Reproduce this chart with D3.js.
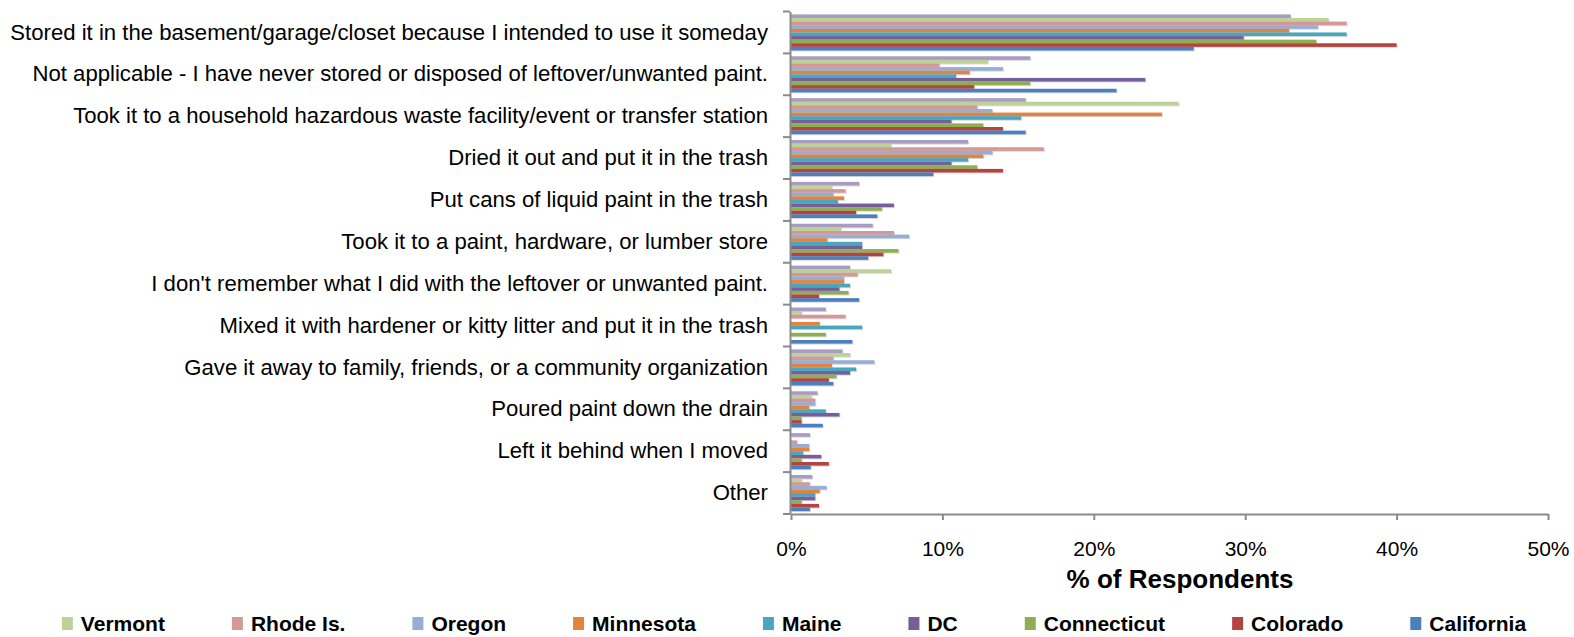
<!DOCTYPE html>
<html><head><meta charset="utf-8">
<script src="https://cdn.jsdelivr.net/npm/d3@7"></script>
<style>
html,body{margin:0;padding:0;background:#fff;}
svg{display:block;}
text{font-family:"Liberation Sans",Arial,sans-serif;fill:#000;}
</style></head>
<body>
<svg id="chart" width="1574" height="637"></svg>
<script>
const categories = [
  "Stored it in the basement/garage/closet because I intended to use it someday",
  "Not applicable - I have never stored or disposed of leftover/unwanted paint.",
  "Took it to a household hazardous waste facility/event or transfer station",
  "Dried it out and put it in the trash",
  "Put cans of liquid paint in the trash",
  "Took it to a paint, hardware, or lumber store",
  "I don't remember what I did with the leftover or unwanted paint.",
  "Mixed it with hardener or kitty litter and put it in the trash",
  "Gave it away to family, friends, or a community organization",
  "Poured paint down the drain",
  "Left it behind when I moved",
  "Other"
];
const seriesNames = ["Total","Vermont","Rhode Is.","Oregon","Minnesota","Maine","DC","Connecticut","Colorado","California"];
const legendNames = ["Vermont","Rhode Is.","Oregon","Minnesota","Maine","DC","Connecticut","Colorado","California"];
const xTicks = [0,10,20,30,40,50];

const total       = [33.0,15.8,15.5,11.7,4.5,5.4,3.9,2.3,3.4,1.75,1.25,1.4];
const vermont     = [35.5,13.0,25.6,6.6,2.7,3.3,6.6,0.7,3.9,1.35,0,0.7];
const rhodeIsland = [36.7,9.8,12.3,16.7,3.6,6.8,4.4,3.6,2.8,1.6,0.4,1.25];
const oregon      = [34.8,14.0,13.3,13.3,2.8,7.8,3.5,0,5.5,1.6,1.2,2.35];
const minnesota   = [32.9,11.8,24.5,12.7,3.5,2.4,3.5,1.9,2.7,1.2,1.2,1.9];
const maine       = [36.7,10.9,15.2,11.7,3.1,4.7,3.9,4.7,4.3,2.3,0.8,1.6];
const dc          = [29.9,23.4,10.6,10.6,6.8,4.7,3.2,0,3.9,3.2,2.0,1.6];
const connecticut = [34.7,15.8,12.7,12.3,6.0,7.1,3.8,2.3,3.0,0.7,0.7,0.7];
const colorado    = [40.0,12.1,14.0,14.0,4.3,6.1,1.85,0,2.5,0.7,2.5,1.85];
const california  = [26.6,21.5,15.5,9.4,5.7,5.1,4.5,4.05,2.8,2.1,1.3,1.25];

const seriesValues = [total,vermont,rhodeIsland,oregon,minnesota,maine,dc,connecticut,colorado,california];
const colors = ["#A99CC2","#BDD198","#D69894","#96AED6","#E0843F","#4AA6BE","#765E99","#8FAE52","#B5433F","#4C7FBD"];

const svg = d3.select("#chart");
const color = d3.scaleOrdinal().domain(seriesNames).range(colors);
const x = d3.scaleLinear().domain([0,50]).range([791,1548]);
const y = d3.scaleBand().domain(categories).range([11.5,514]);
const sub = d3.scaleBand().domain(seriesNames).range([0,y.bandwidth()]).paddingOuter(0.8).paddingInner(0);

const rows = [];
categories.forEach((c,i)=>{
  seriesNames.forEach((s,j)=>{
    rows.push({cat:c, series:s, value:seriesValues[j][i]});
  });
});

// shadows
svg.append("g").selectAll("rect").data(rows.filter(d=>d.value>0)).join("rect")
  .attr("x", x(0)+1)
  .attr("y", d=>y(d.cat)+sub(d.series)+1)
  .attr("width", d=>x(d.value)-x(0))
  .attr("height", sub.bandwidth())
  .attr("fill","#000").attr("opacity",0.15);
// bars
svg.append("g").selectAll("rect").data(rows.filter(d=>d.value>0)).join("rect")
  .attr("x", x(0))
  .attr("y", d=>y(d.cat)+sub(d.series))
  .attr("width", d=>x(d.value)-x(0))
  .attr("height", sub.bandwidth())
  .attr("fill", d=>color(d.series));

// x axis
const xAxis = svg.append("g").attr("transform","translate(0,514)")
  .call(d3.axisBottom(x).tickValues(xTicks).tickFormat(d=>d+"%").tickSize(6).tickSizeOuter(0));
xAxis.select(".domain").attr("stroke","#8a8a8a").attr("stroke-width",2);
xAxis.selectAll(".tick line").attr("stroke","#8a8a8a").attr("stroke-width",2);
xAxis.selectAll(".tick text").attr("font-size",21).attr("dy","1.55em")
  .style("font-family","'Liberation Sans',Arial,sans-serif").attr("fill","#000");

// y axis
const yAxis = svg.append("g").attr("transform","translate(790,0)")
  .call(d3.axisLeft(y).tickSize(0).tickPadding(22));
yAxis.select(".domain").attr("stroke","#8a8a8a").attr("stroke-width",2);
yAxis.selectAll(".tick text").attr("font-size",21)
  .style("font-family","'Liberation Sans',Arial,sans-serif").attr("fill","#000");
let maxW = 0;
yAxis.selectAll(".tick text").each(function(){ maxW = Math.max(maxW, this.getComputedTextLength()); });
const fs = 21*758/maxW;
yAxis.selectAll(".tick text").attr("font-size",fs);
const bounds = categories.map(c=>y(c)).concat([y.range()[1]]);
svg.append("g").selectAll("line").data(bounds).join("line")
  .attr("x1",783).attr("x2",790).attr("y1",d=>d).attr("y2",d=>d)
  .attr("stroke","#8a8a8a").attr("stroke-width",2);

// axis title
svg.append("text").attr("x",1180).attr("y",588)
  .attr("text-anchor","middle").attr("font-weight","bold").attr("font-size",26)
  .text("% of Respondents");

// legend
const lg = svg.append("g");
const items = lg.selectAll("g").data(legendNames).join("g");
items.append("rect").attr("width",11).attr("height",13).attr("y",617)
  .attr("fill",d=>color(d));
items.append("text").attr("x",19).attr("y",631).attr("font-weight","bold").attr("font-size",21).text(d=>d);
const widths = [];
items.each(function(){ widths.push(d3.select(this).select("text").node().getComputedTextLength()); });
const gap = 67;
const totalW = widths.reduce((a,w)=>a+19+w,0) + gap*(widths.length-1);
let cx = 794 - totalW/2;
items.each(function(d,i){
  d3.select(this).attr("transform",`translate(${cx},0)`);
  cx += 19 + widths[i] + gap;
});
</script>
</body></html>
